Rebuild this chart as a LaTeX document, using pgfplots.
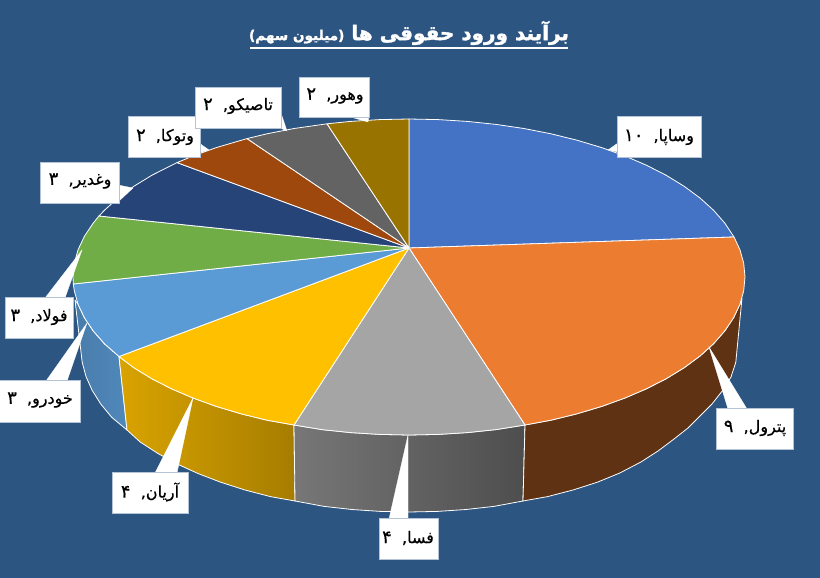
\documentclass[border=0pt]{standalone}
\usepackage{fontspec}
\usepackage{pgfplots}
\pgfplotsset{compat=1.18}
\setmainfont{DejaVu Sans}
\newfontfamily\arabicfont[Script=Arabic,FakeBold=0.5]{DejaVu Sans}
\newfontfamily\titlefont[Script=Arabic,FakeBold=1.6]{DejaVu Sans Bold}
\TeXXeTstate=1
\definecolor{bg}{HTML}{2C5582}
\definecolor{cA}{HTML}{4472C4}
\definecolor{cB}{HTML}{EC7C30}
\definecolor{cC}{HTML}{A5A5A5}
\definecolor{cD}{HTML}{FFC000}
\definecolor{cE}{HTML}{5B9BD5}
\definecolor{cF}{HTML}{70AD47}
\definecolor{cG}{HTML}{264478}
\definecolor{cH}{HTML}{9E480E}
\definecolor{cI}{HTML}{636363}
\definecolor{cJ}{HTML}{997300}
\definecolor{sideB}{HTML}{5E3213}
\definecolor{boxedge}{HTML}{B4C4D6}
\pgfplotsset{
  wedge/.style={draw=white, line width=0.8pt, line join=round},
  side/.style={draw=white, line width=0.8pt, line join=round},
  tip/.style={fill=white, draw=white, line width=0.3pt},
  lbox/.style={fill=white, draw=boxedge, line width=0.5pt},
}
\tikzset{lbl/.style={font=\arabicfont\fontsize{16}{19}\selectfont, text=black, inner sep=0pt, anchor=center}}
% label text: name, comma, then the value in slightly larger digits
\newcommand{\lab}[4]{\node[lbl] at (axis cs:#1,#2) {\beginR #3,\ \ {\fontsize{18}{19}\selectfont\beginL #4\endL}\endR};}
\begin{document}
\begin{tikzpicture}
\begin{axis}[
  scale only axis, width=820pt, height=578pt,
  xmin=0, xmax=820, ymin=0, ymax=578,
  y dir=reverse, hide axis, clip=true,
]
% background
\addplot[fill=bg, draw=none] coordinates {(0,0) (820,0) (820,578) (0,578)} -- cycle;

% side faces
\addplot[side, left color=cE!80!black, right color=cE!88!black] coordinates {
 (75,300) (78.1,304.4) (84.5,317.9) (93.3,331) (104.5,343.8) (119,356.5)
 (127,430) (111.7,417.3) (100.8,404.1) (92.2,390.4) (86,376.5) (82.2,362.3)} -- cycle;
\addplot[side, left color=cD!85!black, right color=cD!65!black] coordinates {
 (119,356.5) (133.7,367.6) (151.6,378.6) (171.4,388.7) (193,398) (216.3,406.4)
 (241,413.8) (267,420.2) (294,425) (295,501) (270.4,496.6) (245,490) (220.9,482.3)
 (198.2,473.6) (177.1,464) (157.8,453.4) (140.3,442.1) (127,430)} -- cycle;
\addplot[side, left color=cC!72!black, right color=cC!47!black] coordinates {
 (294,425) (322,429.6) (350.7,432.6) (379.7,434.4) (409,435) (438.3,434.4)
 (467.3,432.6) (496,429.6) (525,425) (523,501) (493.9,506.4) (466,509.5)
 (437.6,511.4) (409,512) (380.4,511.4) (352,509.5) (324.1,506.4) (295,501)} -- cycle;
\addplot[side, fill=sideB] coordinates {
 (525,425) (551,420.2) (577,413.8) (601.7,406.4) (625,398) (646.6,388.7)
 (666.4,378.6) (684.3,367.6) (700,356) (713.5,343.8) (724.7,331) (733.5,317.9)
 (739.9,304.4) (742,298) (735.8,362.3) (731,377) (723,390) (712,404)
 (700,416) (688,428) (674,439) (658,451) (640.9,462) (619.8,473)
 (597.1,482.3) (573,490) (547.6,496.6) (523,501)} -- cycle;

% top faces
\addplot[wedge, fill=cA] coordinates {
 (409,248) (409,119) (438.3,119.6) (467.3,121.4) (496,124.4) (523.9,128.5) (551,133.8)
 (577,140.2) (601.7,147.6) (625,156) (646.6,165.3) (666.4,175.4) (684.3,186.4)
 (700,198) (713.5,210.2) (724.7,223) (734,237)} -- cycle;
\addplot[wedge, fill=cB] coordinates {
 (409,248) (734,237) (739.9,249.6) (743.7,263.2) (745,277) (743.7,290.8) (739.9,304.4)
 (733.5,317.9) (724.7,331) (713.5,343.8) (700,356) (684.3,367.6) (666.4,378.6)
 (646.6,388.7) (625,398) (601.7,406.4) (577,413.8) (551,420.2) (525,425)} -- cycle;
\addplot[wedge, fill=cC] coordinates {
 (409,248) (525,425) (496,429.6) (467.3,432.6) (438.3,434.4) (409,435) (379.7,434.4)
 (350.7,432.6) (322,429.6) (294,425)} -- cycle;
\addplot[wedge, fill=cD] coordinates {
 (409,248) (294,425) (267,420.2) (241,413.8) (216.3,406.4) (193,398) (171.4,388.7)
 (151.6,378.6) (133.7,367.6) (119,356.5)} -- cycle;
\addplot[wedge, fill=cE] coordinates {
 (409,248) (119,356.5) (104.5,343.8) (93.3,331) (84.5,317.9) (78.1,304.4) (74.3,290.8)
 (73.3,284)} -- cycle;
\addplot[wedge, fill=cF] coordinates {
 (409,248) (73.3,284) (73,277) (74.3,263.2) (78.1,249.6) (84.5,236.1) (93.3,223)
 (99,216)} -- cycle;
\addplot[wedge, fill=cG] coordinates {
 (409,248) (99,216) (104.5,210.2) (118,198) (133.7,186.4) (151.6,175.4) (177,162.6)} -- cycle;
\addplot[wedge, fill=cH] coordinates {
 (409,248) (177,162.6) (193,156) (216.3,147.6) (247,138.6)} -- cycle;
\addplot[wedge, fill=cI] coordinates {
 (409,248) (247,138.6) (267,133.8) (294.1,128.5) (327,123.8)} -- cycle;
\addplot[wedge, fill=cJ] coordinates {
 (409,248) (327,123.8) (350.7,121.4) (379.7,119.6) (409,119)} -- cycle;

% callouts
\addplot[tip] coordinates {(608,150) (618,143) (618,152)} -- cycle;
\addplot[lbox] coordinates {(617,116) (701,116) (701,157) (617,157)} -- cycle;
\lab{659}{137}{وساپا}{۱۰}

\addplot[tip] coordinates {(709,347) (747,409) (728,409)} -- cycle;
\addplot[lbox] coordinates {(716,408) (793,408) (793,449) (716,449)} -- cycle;
\lab{755}{428}{پترول}{۹}

\addplot[tip] coordinates {(408,435) (408,519) (389,519)} -- cycle;
\addplot[lbox] coordinates {(379,518) (438,518) (438,559) (379,559)} -- cycle;
\lab{408}{538}{فسا}{۴}

\addplot[tip] coordinates {(193,398) (177,473) (155,473)} -- cycle;
\addplot[lbox] coordinates {(112,472) (188,472) (188,513) (112,513)} -- cycle;
\lab{150}{492}{آریان}{۴}

\addplot[tip] coordinates {(87,323) (67,381) (46,381)} -- cycle;
\addplot[lbox] coordinates {(-2,380) (80,380) (80,422) (-2,422)} -- cycle;
\lab{40}{400}{خودرو}{۳}

\addplot[tip] coordinates {(82,250) (65,298) (45,298)} -- cycle;
\addplot[lbox] coordinates {(5,297) (73,297) (73,338) (5,338)} -- cycle;
\lab{39}{317}{فولاد}{۳}

\addplot[tip] coordinates {(133,188) (118,202) (118,185)} -- cycle;
\addplot[lbox] coordinates {(40,162) (119,162) (119,203) (40,203)} -- cycle;
\lab{80}{181}{وغدیر}{۳}

\addplot[tip] coordinates {(209,150) (199,153) (199,143)} -- cycle;
\addplot[lbox] coordinates {(128,116) (200,116) (200,157) (128,157)} -- cycle;
\lab{165}{137}{وتوکا}{۲}

\addplot[tip] coordinates {(287,131) (280,128) (280,110)} -- cycle;
\addplot[lbox] coordinates {(195,87) (281,87) (281,128) (195,128)} -- cycle;
\lab{238}{106}{تاصیکو}{۲}

\addplot[tip] coordinates {(368,122) (347,116) (369,116)} -- cycle;
\addplot[lbox] coordinates {(299,77) (369,77) (369,117) (299,117)} -- cycle;
\lab{335}{96}{وهور}{۲}

% title
\node[font=\titlefont, text=white, inner sep=0pt, anchor=center] at (axis cs:409,33)
 {\beginR\fontsize{20}{24}\selectfont برآیند ورود حقوقی ها \fontsize{13.6}{16}\selectfont (میلیون سهم)\endR};
\addplot[white, line width=1.2pt] coordinates {(250,48) (568,48)};
\end{axis}
\end{tikzpicture}
\end{document}
